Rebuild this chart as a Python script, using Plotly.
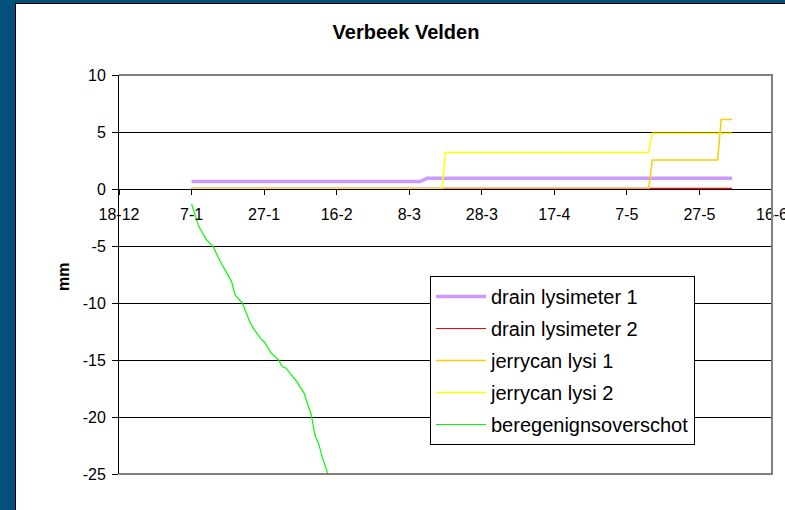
import plotly.graph_objects as go

# ---------------- data ----------------
tick_dates = ["2006-12-18", "2007-01-07", "2007-01-27", "2007-02-16", "2007-03-08",
              "2007-03-28", "2007-04-17", "2007-05-07", "2007-05-27", "2007-06-16"]
tick_labels = ["18-12", "7-1", "27-1", "16-2", "8-3", "28-3", "17-4", "7-5", "27-5", "16-6"]

y_tick_vals = [-25, -20, -15, -10, -5, 0, 5, 10]
y_tick_labels = ["-25", "-20", "-15", "-10", "-5", "0", "5", "10"]

drain1_dates = ["2007-01-07", "2007-03-11", "2007-03-13", "2007-06-05"]
drain1_vals = [0.65, 0.65, 0.95, 0.95]

drain2_dates = ["2007-01-07", "2007-06-05"]
drain2_vals = [0.05, 0.05]

jerry1_dates = ["2007-01-07", "2007-05-13", "2007-05-14", "2007-06-01", "2007-06-02", "2007-06-05"]
jerry1_vals = [0.0, 0.0, 2.55, 2.55, 6.1, 6.1]

jerry2_dates = ["2007-01-07", "2007-03-17", "2007-03-18", "2007-05-13", "2007-05-14", "2007-06-05"]
jerry2_vals = [0.0, 0.0, 3.2, 3.2, 4.9, 4.9]

bereg_dates = ["2007-01-07", "2007-01-09", "2007-01-11", "2007-01-13", "2007-01-15",
               "2007-01-16", "2007-01-18", "2007-01-19", "2007-01-21", "2007-01-23",
               "2007-01-24", "2007-01-26", "2007-01-27", "2007-01-29", "2007-01-31",
               "2007-02-01", "2007-02-02", "2007-02-04", "2007-02-05", "2007-02-07",
               "2007-02-09", "2007-02-10", "2007-02-11", "2007-02-12", "2007-02-14"]
bereg_vals = [-1.3, -3.3, -4.4, -5.1, -6.4, -7.0, -8.1, -9.3, -10.0, -11.6,
              -12.2, -13.1, -13.4, -14.4, -15.0, -15.6, -15.7, -16.5, -16.9, -17.9,
              -19.8, -21.6, -22.3, -23.5, -25.4]

y_min, y_max = -25, 10

# ---------------- layout geometry ----------------
W, H = 785, 510
L, R, T, B = 119, 13, 75, 36
pw, ph = W - L - R, H - T - B

def px_x(x):
    return (x - L) / pw

def px_y(y):
    return (H - B - y) / ph

FONT = "Arial, Liberation Sans, sans-serif"

fig = go.Figure()
series = [
    ("drain lysimeter 1", drain1_dates, drain1_vals, "#CC99FF", 3.5),
    ("drain lysimeter 2", drain2_dates, drain2_vals, "#FF0000", 1.2),
    ("jerrycan lysi 1", jerry1_dates, jerry1_vals, "#FFCC00", 1.5),
    ("jerrycan lysi 2", jerry2_dates, jerry2_vals, "#FFFF00", 1.5),
    ("beregenignsoverschot", bereg_dates, bereg_vals, "#00FF00", 1.2),
]
for name, xs, ys, col, w in series:
    fig.add_trace(go.Scatter(x=xs, y=ys, mode="lines", name=name, legendgroup=name,
                             line=dict(color=col, width=w)))

fig.update_layout(
    width=W, height=H,
    margin=dict(l=L, r=R, t=T, b=B, autoexpand=False),
    paper_bgcolor="#03507F",
    plot_bgcolor="#C0C0C0",
    font=dict(family=FONT, color="black"),
    title=dict(text="<b>Verbeek Velden</b>", x=406 / W, xref="container", xanchor="center",
               y=1 - 32 / H, yref="container", yanchor="middle",
               font=dict(size=20, family=FONT, color="black")),
    showlegend=True,
    legend=dict(x=px_x(430), y=px_y(276), xanchor="left", yanchor="top",
                bgcolor="white", bordercolor="black", borderwidth=1,
                font=dict(size=20, family=FONT, color="black"),
                tracegroupgap=3, itemwidth=50),
    xaxis=dict(type="date", range=["2006-12-18", "2007-06-16"],
               tickmode="array", tickvals=tick_dates, ticktext=tick_labels,
               anchor="free", position=(0 - y_min) / (y_max - y_min),
               showline=True, linecolor="black", linewidth=1,
               ticks="outside", ticklen=5, tickcolor="black",
               showgrid=False, zeroline=False, ticklabeloverflow="allow",
               automargin=False,
               tickfont=dict(size=16, family=FONT, color="black"),
               ticklabelstandoff=6),
    yaxis=dict(range=[y_min, y_max], tickmode="array",
               tickvals=y_tick_vals, ticktext=y_tick_labels,
               showline=True, linecolor="black", linewidth=1,
               ticks="outside", ticklen=6, tickcolor="black",
               showgrid=True, gridcolor="black", gridwidth=1, zeroline=False,
               automargin=False,
               tickfont=dict(size=16, family=FONT, color="black"),
               ticklabelstandoff=3),
    shapes=[
        dict(type="rect", xref="paper", yref="paper", layer="below",
             x0=px_x(15.5), x1=px_x(W + 20), y0=px_y(H + 20), y1=px_y(3.5),
             fillcolor="white", line=dict(color="black", width=1)),
        dict(type="path", xref="paper", yref="paper", layer="above",
             path="M 0,1 L 1,1 L 1,0 L 0,0", line=dict(color="#808080", width=2)),
    ],
    annotations=[
        dict(text="<b>mm</b>", xref="paper", yref="paper", x=px_x(63), y=px_y(277),
             textangle=-90, showarrow=False, xanchor="center", yanchor="middle",
             font=dict(size=16, family=FONT, color="black")),
    ],
)

fig.write_html("out.html", config={"displayModeBar": False},
               post_script="document.body.style.margin='0px';document.body.style.overflow='hidden';")
